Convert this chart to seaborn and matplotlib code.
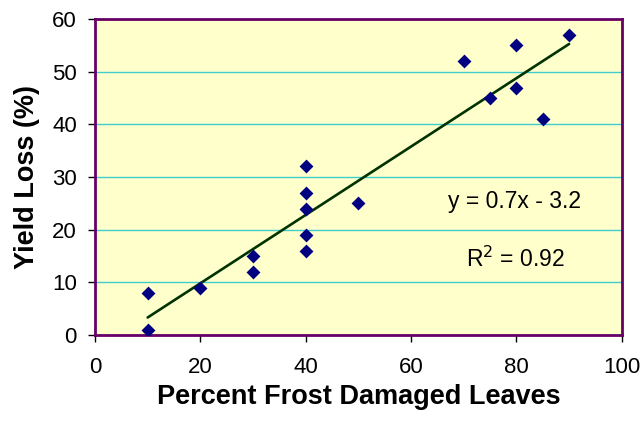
import pandas as pd
import seaborn as sns
import matplotlib.pyplot as plt

# data
frost_pct = [10, 10, 20, 30, 30, 40, 40, 40, 40, 40, 50, 70, 75, 80, 80, 85, 90]
yield_loss = [8, 1, 9, 15, 12, 32, 27, 24, 19, 16, 25, 52, 45, 55, 47, 41, 57]
x_ticks = [0, 20, 40, 60, 80, 100]
y_ticks = [0, 10, 20, 30, 40, 50, 60]

df = pd.DataFrame({"frost": frost_pct, "loss": yield_loss})

sns.set_style("white")
plt.rcParams['font.family'] = ['Liberation Sans', 'DejaVu Sans']
plt.rcParams['text.color'] = 'black'
plt.rcParams['axes.labelcolor'] = 'black'
plt.rcParams['xtick.color'] = 'black'
plt.rcParams['ytick.color'] = 'black'

fig = plt.figure(figsize=(6.43, 4.24), dpi=100)
ax = fig.add_axes([0.1477, 0.21, 0.8193, 0.745])
ax.set_facecolor('#FFFFCC')

# horizontal grid lines
for v in y_ticks[1:-1]:
    ax.axhline(v, color='#40CCCC', lw=1, zorder=0)

# trend line
sns.regplot(data=df, x="frost", y="loss", ci=None, scatter=False, truncate=True,
            line_kws={"color": "#003300", "lw": 1.9}, ax=ax)

sns.scatterplot(data=df, x="frost", y="loss", marker='D', s=50, color='#000080',
                edgecolor='#000080', linewidth=0, zorder=3, ax=ax)

ax.set_xlim(0, 100)
ax.set_ylim(0, 60)
ax.set_xticks(x_ticks)
ax.set_yticks(y_ticks)
ax.tick_params(axis='both', direction='out', length=5, width=1, labelsize=16,
               bottom=True, left=True)
ax.tick_params(axis='x', pad=11)
ax.tick_params(axis='y', pad=8)

for side in ax.spines.values():
    side.set_color('#660066')
    side.set_linewidth(2)

ax.set_xlabel("Percent Frost Damaged Leaves", fontsize=19.5, fontweight='bold', labelpad=4)
ax.set_ylabel("Yield Loss (%)", fontsize=19.5, fontweight='bold', labelpad=9)

ax.text(79.7, 25.3, "y = 0.7x - 3.2", fontsize=16.5, ha='center', va='center')
ax.text(79.9, 14.4, r"R$^2$ = 0.92", fontsize=16.5, ha='center', va='center')

fig.savefig("out.png", dpi=100)
